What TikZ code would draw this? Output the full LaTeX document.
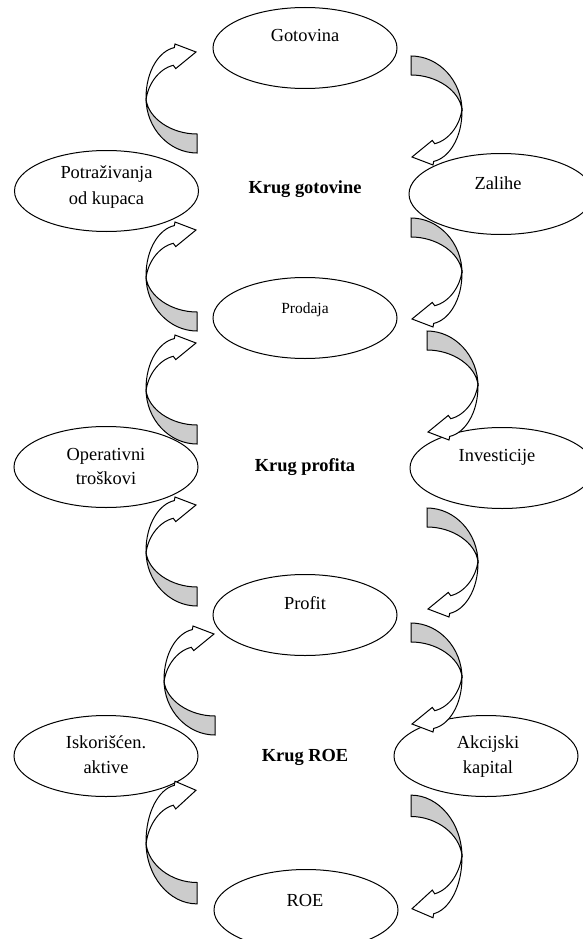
\documentclass[tikz,border=0pt]{standalone}
\usepackage{fontspec}
\setmainfont{Liberation Serif}
\usetikzlibrary{shapes.geometric}
\definecolor{shadegray}{HTML}{CCCCCC}
\tikzset{
  elli/.style={ellipse, draw, line width=1pt, minimum width=184pt, minimum height=81pt, inner sep=0pt},
  lbl/.style={anchor=base, inner sep=0pt, font=\fontsize{18.4}{20}\selectfont},
  lblsmall/.style={anchor=base, inner sep=0pt, font=\fontsize{15.5}{18}\selectfont},
  krug/.style={anchor=base, inner sep=0pt, font=\fontsize{18.4}{20}\selectfont\bfseries},
  backpart/.style={fill=shadegray, draw, line width=1pt},
  frontpart/.style={fill=white, draw, line width=1pt},
}
\newcommand{\crvarrow}[2][]{%
  \begin{scope}[shift={#2}, #1]
    \draw[backpart] (0,0) .. controls (0,30) and (23,55) .. (51,55) -- (51,36) .. controls (25,36) and (2,20) .. (0,1) -- cycle;
    \draw[frontpart] (0,3) .. controls (1,-12) and (12,-29) .. (27.3,-32.7) -- (29.7,-29.4) -- (50,-46) -- (29,-54) -- (28.3,-50.4) .. controls (13,-47) and (0,-27) .. (0,0) -- cycle;
  \end{scope}}
\begin{document}
\begin{tikzpicture}[x=1pt, y=-1pt]
\useasboundingbox (0,0) rectangle (583,939);
\clip (0,0) rectangle (583,939);
\fill[white] (0,0) rectangle (583,939);
% ellipses
\node[elli] (got) at (305,48) {};
\node[elli] (pot) at (106.5,191) {};
\node[elli] (zal) at (501,194) {};
\node[elli] (pro) at (305,318) {};
\node[elli] (ope) at (106,467) {};
\node[elli] (inv) at (502,468) {};
\node[elli] (prf) at (305,615) {};
\node[elli] (isk) at (106,756) {};
\node[elli] (akc) at (486,756) {};
\node[elli] (roe) at (306,910) {};
% texts
\node[lbl] (tgot) at (305,42) {Gotovina};
\node[lbl] (tpot1) at (106.5,178) {Potraživanja};
\node[lbl] (tpot2) at (106.5,204) {od kupaca};
\node[lbl] (tzal) at (498,189) {Zalihe};
\node[krug] (kg) at (305,193) {Krug gotovine};
\node[lblsmall] (tpro) at (305,313) {Prodaja};
\node[lbl] (tope1) at (106,460) {Operativni};
\node[lbl] (tope2) at (106,484) {troškovi};
\node[lbl] (tinv) at (497,461) {Investicije};
\node[krug] (kp) at (305,471) {Krug profita};
\node[lbl] (tprf) at (305,609) {Profit};
\node[lbl] (tisk1) at (106,748) {Iskorišćen.};
\node[lbl] (tisk2) at (106,773) {aktive};
\node[lbl] (takc1) at (488,748) {Akcijski};
\node[lbl] (takc2) at (488,773) {kapital};
\node[krug] (kr) at (305,761) {Krug ROE};
\node[lbl] (troe) at (305,906) {ROE};
% left curved arrows (pointing up)
\crvarrow{(146,98)}
\crvarrow{(146,276)}
\crvarrow{(146,389)}
\crvarrow{(146,551)}
\crvarrow{(164,680)}
\crvarrow[yscale=1.125]{(146,842)}
% right curved arrows (pointing down)
\crvarrow[rotate=180]{(462,111)}
\crvarrow[rotate=180]{(462,273)}
\crvarrow[rotate=180]{(478,386)}
\crvarrow[rotate=180]{(478,563)}
\crvarrow[rotate=180]{(462,678)}
\crvarrow[rotate=180, yscale=1.125]{(462,857)}
\end{tikzpicture}
\end{document}
